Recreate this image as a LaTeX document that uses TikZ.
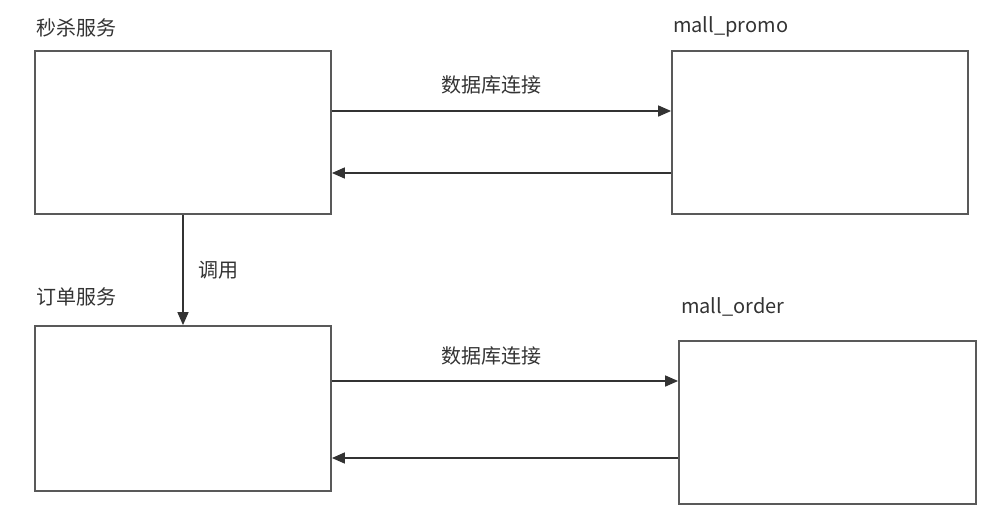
\documentclass[tikz,border=0pt]{standalone}
\usepackage{fontspec}
\setmainfont{Noto Sans CJK SC}
\usetikzlibrary{arrows.meta}

\begin{document}
\begin{tikzpicture}[x=1pt, y=-1pt,
    box/.style={draw=black!65, line width=1.8pt, minimum width=296pt, minimum height=163pt, inner sep=0pt},
    tag/.style={anchor=west, text=black!80, font=\fontsize{20}{22}\selectfont, inner sep=0pt},
    lbl/.style={text=black!80, font=\fontsize{20}{22}\selectfont, inner sep=0pt},
    link/.style={draw=black!80, line width=1.6pt, -{Triangle[length=13pt, width=11pt]}}]
  \useasboundingbox (0,0) rectangle (996,520);

  % services and databases
  \node[box] (seckill) at (183,132.5) {};
  \node[box] (promo) at (820,132.5) {};
  \node[box, minimum height=165pt] (order) at (183,408.5) {};
  \node[box, minimum width=297pt] (morder) at (827.5,422.5) {};

  \node[tag] (seckilltag) at (36,28) {秒杀服务};
  \node[tag] (promotag) at (673,27) {mall\_promo};
  \node[tag] (ordertag) at (36,297) {订单服务};
  \node[tag] (mordertag) at (681,307) {mall\_order};

  % upper pair
  \draw[link] ([yshift=21.5pt]seckill.east) -- ([yshift=21.5pt]seckill.east -| promo.west)
    node[lbl, midway, above=16pt, xshift=-10pt] (conn1) {数据库连接};
  \draw[link] ([yshift=-40.5pt]promo.west) -- ([yshift=-40.5pt]promo.west -| seckill.east);

  % call
  \draw[link] (seckill.south) -- (order.north)
    node[lbl, midway, right=15pt] (call) {调用};

  % lower pair
  \draw[link] ([yshift=27.5pt]order.east) -- ([yshift=27.5pt]order.east -| morder.west)
    node[lbl, midway, above=15pt, xshift=-14pt] (conn2) {数据库连接};
  \draw[link] ([yshift=-49.5pt]order.east -| morder.west) -- ([yshift=-49.5pt]order.east);
\end{tikzpicture}
\end{document}
